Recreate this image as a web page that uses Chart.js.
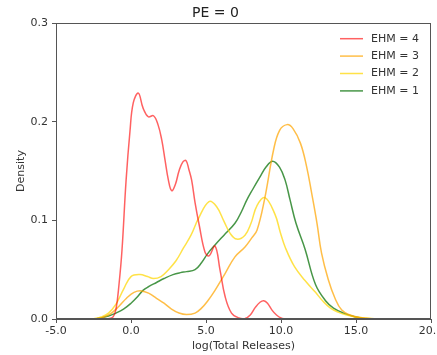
<!DOCTYPE html>
<html>
<head>
<meta charset="utf-8">
<script src="https://cdn.jsdelivr.net/npm/chart.js@4/dist/chart.umd.min.js"></script>
<style>
  html, body { margin: 0; padding: 0; background: #fff; overflow: hidden; width: 437px; height: 355px; }
  #wrap { width: 487px; height: 355px; }
</style>
</head>
<body>
<div id="wrap"><canvas id="c" width="487" height="355"></canvas></div>
<script>
// ---- data ----
const chartTitle = 'PE = 0';
const xAxisTitle = 'log(Total Releases)';
const yAxisTitle = 'Density';
const seriesLabels = ['EHM = 4', 'EHM = 3', 'EHM = 2', 'EHM = 1'];

const ehm4Releases = [-1.6, -1.2, -1.0, -0.8, -0.6, -0.33, -0.07, 0.15, 0.49, 0.8, 1.15, 1.5, 1.8, 2.05, 2.27, 2.49, 2.71, 2.95, 3.2, 3.45, 3.67, 3.85, 4.04, 4.27, 4.55, 4.93, 5.2, 5.6, 5.93, 6.27, 6.7, 7.2, 7.6, 7.95, 8.3, 8.6, 8.85, 9.1, 9.4, 9.7, 10.0, 10.3];
const ehm4Density  = [0, 0.002, 0.01, 0.035, 0.07, 0.14, 0.19, 0.219, 0.229, 0.214, 0.205, 0.206, 0.197, 0.1815, 0.161, 0.141, 0.130, 0.136, 0.150, 0.159, 0.1605, 0.152, 0.141, 0.118, 0.095, 0.068, 0.064, 0.074, 0.050, 0.023, 0.006, 0.001, 0.0005, 0.004, 0.012, 0.017, 0.0186, 0.016, 0.009, 0.004, 0.001, 0];

const ehm3Releases = [-2.3, -1.8, -1.3, -0.8, -0.3, 0.2, 0.7, 1.2, 1.7, 2.2, 2.7, 3.2, 3.7, 4.27, 4.7, 5.1, 5.6, 6.27, 6.93, 7.6, 8.04, 8.4, 8.9, 9.5, 9.9, 10.4, 10.8, 11.3, 11.7, 12.05, 12.4, 12.7, 13.15, 13.6, 14.05, 14.6, 15.2, 16.0, 16.5];
const ehm3Density  = [0, 0.002, 0.006, 0.013, 0.021, 0.027, 0.0285, 0.026, 0.021, 0.016, 0.010, 0.006, 0.0045, 0.006, 0.011, 0.018, 0.029, 0.046, 0.063, 0.073, 0.082, 0.090, 0.121, 0.171, 0.191, 0.197, 0.193, 0.178, 0.155, 0.127, 0.097, 0.067, 0.040, 0.021, 0.009, 0.004, 0.0015, 0.0003, 0];

const ehm2Releases = [-2.5, -2.0, -1.5, -1.0, -0.5, 0.0, 0.6, 1.1, 1.5, 2.0, 2.5, 3.0, 3.5, 4.0, 4.5, 5.2, 5.7, 6.2, 6.6, 7.05, 7.6, 8.0, 8.4, 8.93, 9.6, 9.95, 10.3, 10.9, 11.6, 12.3, 12.8, 13.3, 13.8, 14.4, 15.0, 15.7, 16.4];
const ehm2Density  = [0, 0.002, 0.006, 0.015, 0.03, 0.043, 0.045, 0.043, 0.041, 0.043, 0.05, 0.059, 0.072, 0.085, 0.102, 0.119, 0.114, 0.099, 0.087, 0.081, 0.085, 0.097, 0.115, 0.123, 0.106, 0.088, 0.072, 0.053, 0.039, 0.027, 0.018, 0.011, 0.007, 0.004, 0.002, 0.001, 0];

const ehm1Releases = [-2.5, -2.0, -1.5, -1.0, -0.5, 0.0, 0.4, 0.8, 1.2, 1.7, 2.2, 2.8, 3.3, 3.7, 4.27, 4.7, 5.1, 5.6, 6.2, 6.93, 7.4, 7.7, 8.1, 8.6, 9.0, 9.44, 9.9, 10.27, 10.6, 11.0, 11.6, 12.3, 13.0, 13.5, 14.16, 15.0, 15.5, 16.0];
const ehm1Density  = [0, 0.001, 0.003, 0.006, 0.01, 0.016, 0.022, 0.029, 0.033, 0.037, 0.041, 0.045, 0.047, 0.048, 0.050, 0.057, 0.066, 0.075, 0.085, 0.097, 0.110, 0.120, 0.131, 0.144, 0.154, 0.160, 0.154, 0.141, 0.121, 0.097, 0.071, 0.035, 0.018, 0.011, 0.006, 0.002, 0.0005, 0];

const xTicks = [-5, 0, 5, 10, 15, 20];
const yTicks = [0, 0.1, 0.2, 0.3];

// ---- styling ----
const seriesColors = ['rgba(255,0,0,0.62)', 'rgba(255,165,0,0.72)', 'rgba(255,215,0,0.72)', 'rgba(0,110,0,0.72)'];
const seriesX = [ehm4Releases, ehm3Releases, ehm2Releases, ehm1Releases];
const seriesY = [ehm4Density, ehm3Density, ehm2Density, ehm1Density];

Chart.defaults.font.family = "'DejaVu Sans', sans-serif";
Chart.defaults.color = '#333';

const datasets = seriesLabels.map((lab, i) => ({
  label: lab,
  data: seriesX[i].map((x, j) => ({ x: x, y: seriesY[i][j] })),
  borderColor: seriesColors[i],
  backgroundColor: seriesColors[i],
  borderWidth: 1.5,
  pointRadius: 0,
  fill: false,
  tension: 0.4
}));

const framePlugin = {
  id: 'frameAndLegend',
  afterDraw(chart) {
    const ctx = chart.ctx, a = chart.chartArea;
    ctx.save();
    ctx.strokeStyle = '#555';
    ctx.lineWidth = 1;
    ctx.strokeRect(Math.round(a.left) + 0.5, Math.round(a.top) + 0.5, Math.round(a.right - a.left) - 1, Math.round(a.bottom - a.top) - 1);
    // legend inside top-right
    ctx.font = "11px 'DejaVu Sans', sans-serif";
    ctx.textBaseline = 'middle';
    ctx.textAlign = 'left';
    seriesLabels.forEach((lab, i) => {
      const y = a.top + 15.7 + i * 17.4;
      ctx.strokeStyle = seriesColors[i];
      ctx.lineWidth = 1.5;
      ctx.beginPath();
      ctx.moveTo(a.right - 91, y);
      ctx.lineTo(a.right - 68, y);
      ctx.stroke();
      ctx.fillStyle = '#333';
      ctx.fillText(lab, a.right - 60, y);
    });
    ctx.restore();
  }
};

new Chart(document.getElementById('c'), {
  type: 'line',
  data: { datasets: datasets },
  options: {
    responsive: false,
    animation: false,
    devicePixelRatio: 1,
    layout: { padding: { left: 0, right: 56, top: 0, bottom: 0 } },
    plugins: {
      legend: { display: false },
      tooltip: { enabled: false },
      title: {
        display: true,
        text: chartTitle,
        color: '#222',
        font: { size: 14, weight: 'normal' },
        padding: { top: 5, bottom: 1.2 }
      }
    },
    scales: {
      x: {
        type: 'linear',
        min: -5,
        max: 20,
        afterBuildTicks: (s) => { s.ticks = xTicks.map(v => ({ value: v })); },
        ticks: { callback: (v) => Number(v).toFixed(1), font: { size: 11 }, color: '#333', padding: 2, maxRotation: 0 },
        grid: { drawOnChartArea: false, drawTicks: true, tickLength: 4, tickColor: '#555' },
        border: { display: true, color: '#555' },
        title: { display: true, text: xAxisTitle, font: { size: 11 }, color: '#333', padding: { top: 2, bottom: 2 } },
        afterFit: (s) => { s.height = 36; }
      },
      y: {
        type: 'linear',
        min: 0,
        max: 0.3,
        afterBuildTicks: (s) => { s.ticks = yTicks.map(v => ({ value: v })); },
        ticks: { callback: (v) => Number(v).toFixed(1), font: { size: 11 }, color: '#333', padding: 4 },
        grid: { drawOnChartArea: false, drawTicks: true, tickLength: 4, tickColor: '#555' },
        border: { display: true, color: '#555' },
        title: { display: true, text: yAxisTitle, font: { size: 11 }, color: '#333', padding: { top: 14.5, bottom: 0 } },
        afterFit: (s) => { s.width = 56; }
      }
    }
  },
  plugins: [framePlugin]
});
</script>
</body>
</html>
